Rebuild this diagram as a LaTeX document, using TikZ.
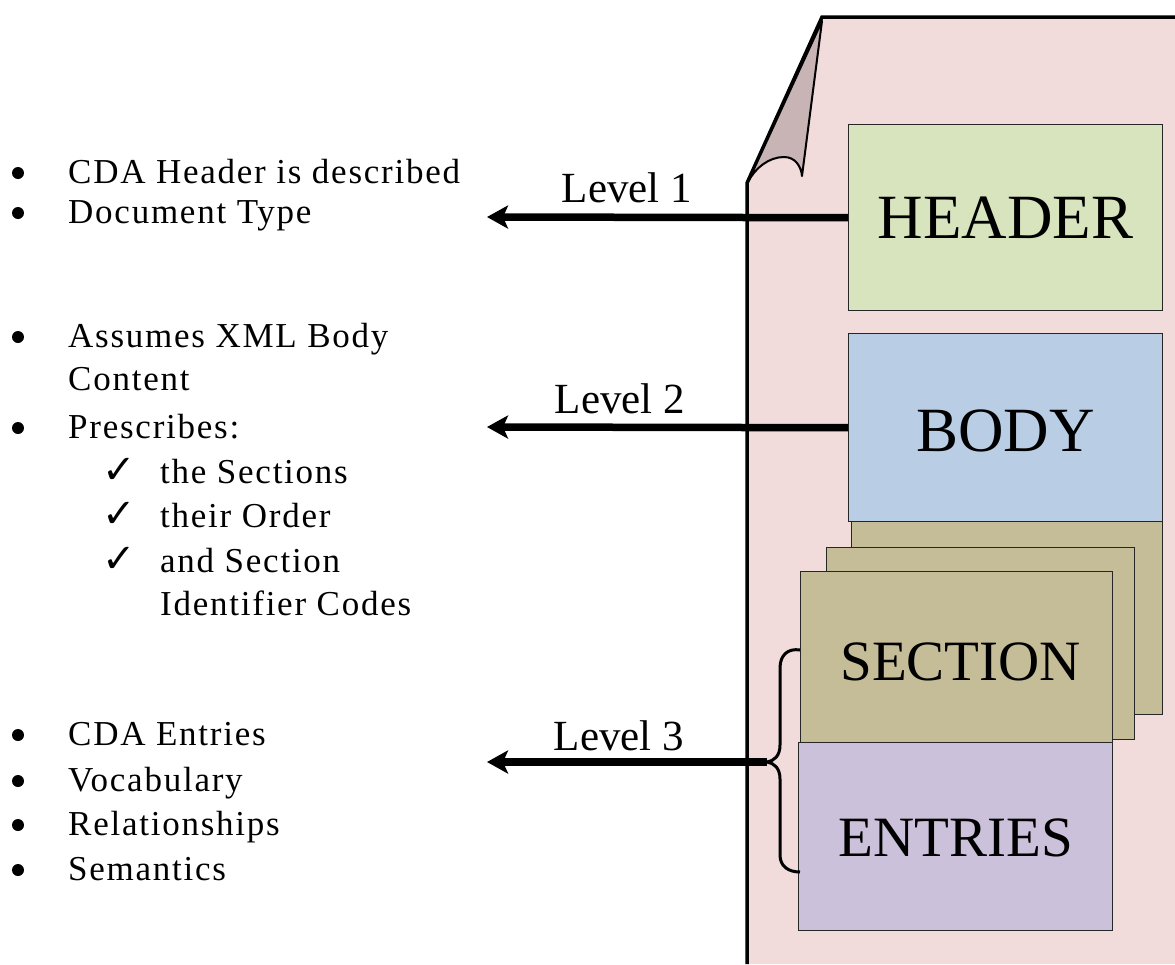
\documentclass[tikz,border=0pt]{standalone}
\usepackage{fontspec}
\setmainfont{Liberation Serif}
\newfontfamily\listfont{Liberation Serif}[LetterSpace=5]
\newfontfamily\symfont{DejaVu Sans}
\usetikzlibrary{arrows.meta}

\definecolor{pagepink}{HTML}{F2DBDB}
\definecolor{flapgray}{HTML}{C8B3B5}
\definecolor{hdrgreen}{HTML}{D7E4BD}
\definecolor{bodyblue}{HTML}{B9CDE5}
\definecolor{sectan}{HTML}{C4BD97}
\definecolor{entlilac}{HTML}{CCC1DA}

\tikzset{
  block/.style={draw=black!85, line width=1.4pt, inner sep=0pt, anchor=north west,
    font=\fontsize{63}{63}\selectfont},
  levelarrow/.style={line width=7.5pt, -{Stealth[length=21pt,width=23pt,inset=5pt]}},
  levellabel/.style={inner sep=0pt, anchor=base, font=\fontsize{43}{43}\selectfont},
  item/.style={inner sep=0pt, anchor=base west, font=\listfont\fontsize{35}{35}\selectfont},
  tick/.style={inner sep=0pt, anchor=base west, font=\symfont\fontsize{40}{40}\selectfont},
  dot/.style={circle, fill=black, inner sep=0pt, minimum size=12pt},
  edge/.style={line width=3.5pt}
}

\begin{document}
\begin{tikzpicture}[x=1pt, y=-1pt]
\useasboundingbox (0,0) rectangle (1175,964);

% the document sheet
\fill[pagepink] (747,964) -- (747,183) -- (822,17) -- (1175,17) -- (1175,964) -- cycle;
\draw[edge, line join=miter] (747,964) -- (747,183) -- (822,17) -- (1175,17);

% dog-eared corner
\filldraw[fill=flapgray, line width=2pt, line join=round]
  (748,182) -- (822,21) -- (802,176)
  .. controls (801,166) and (795,157) .. (784,157)
  .. controls (769,157) and (755,168) .. (748,182) -- cycle;

% section stack behind the body
\node[block, fill=sectan, minimum width=311pt, minimum height=214pt] (sec3) at (851,500) {};
\node[block, fill=sectan, minimum width=308pt, minimum height=192pt] (sec2) at (826,547) {};

% header and body
\node[block, fill=hdrgreen, minimum width=314pt, minimum height=186pt] (header) at (848,124) {};
\node[font=\fontsize{63}{63}\selectfont, inner sep=0pt] at (header.center) {HEADER};
\node[block, fill=bodyblue, minimum width=314pt, minimum height=188pt] (body) at (848,333) {};
\node[font=\fontsize{63}{63}\selectfont, inner sep=0pt] at ([yshift=-3pt]body.center) {BODY};

% front section and entries
\node[block, fill=sectan, minimum width=312pt, minimum height=171pt] (sec1) at (800,571) {};
\node[font=\fontsize{57}{57}\selectfont, inner sep=0pt] at ([xshift=4pt,yshift=-5pt]sec1.center) {SECTION};
\node[block, fill=entlilac, minimum width=314pt, minimum height=188pt] (entries) at (798,742) {};
\node[font=\fontsize{57}{57}\selectfont, inner sep=0pt] at ([yshift=-1pt]entries.center) {ENTRIES};

% curly brace grouping section and entries
\coordinate (bracetip) at (767,762);
\draw[line width=3pt, line join=round]
  (800,650) .. controls (788,648) and (780,655) .. (780,668) -- (780,745)
  .. controls (780,756) and (774,761) .. (bracetip)
  .. controls (774,763) and (780,768) .. (780,779) -- (780,855)
  .. controls (780,866) and (788,872) .. (800,872);

% level arrows
\coordinate (tip1) at (487,217);
\coordinate (tip2) at (487,427);
\coordinate (tip3) at (487,762);
\draw[levelarrow] (header.west) -- (tip1);
\draw[levelarrow] (body.west) -- (tip2);
\draw[levelarrow] (bracetip) -- (tip3);
\node[levellabel] (lv1) at (627,202) {Level 1};
\node[levellabel] (lv2) at (620,413) {Level 2};
\node[levellabel] (lv3) at (619,750) {Level 3};

% level 1 notes
\node[dot] (b11) at (18,173) {};
\node[item] (t11) at (68,183) {CDA Header is described};
\node[dot] (b12) at (18,213) {};
\node[item] (t12) at (68,223) {Document Type};

% level 2 notes
\node[dot] (b21) at (18,337) {};
\node[item] (t21) at (68,347) {Assumes XML Body};
\node[item] (t21b) at (68,390) {Content};
\node[dot] (b22) at (18,428) {};
\node[item] (t22) at (68,438) {Prescribes:};
\node[tick] (c1) at (102,483) {✓};
\node[item] (t23) at (160,483) {the Sections};
\node[tick] (c2) at (102,527) {✓};
\node[item] (t24) at (160,527) {their Order};
\node[tick] (c3) at (102,572) {✓};
\node[item] (t25) at (160,572) {and Section};
\node[item] (t25b) at (160,615) {Identifier Codes};

% level 3 notes
\node[dot] (b31) at (18,735) {};
\node[item] (t31) at (68,745) {CDA Entries};
\node[dot] (b32) at (18,781) {};
\node[item] (t32) at (68,791) {Vocabulary};
\node[dot] (b33) at (18,825) {};
\node[item] (t33) at (68,835) {Relationships};
\node[dot] (b34) at (18,870) {};
\node[item] (t34) at (68,880) {Semantics};
\end{tikzpicture}
\end{document}
